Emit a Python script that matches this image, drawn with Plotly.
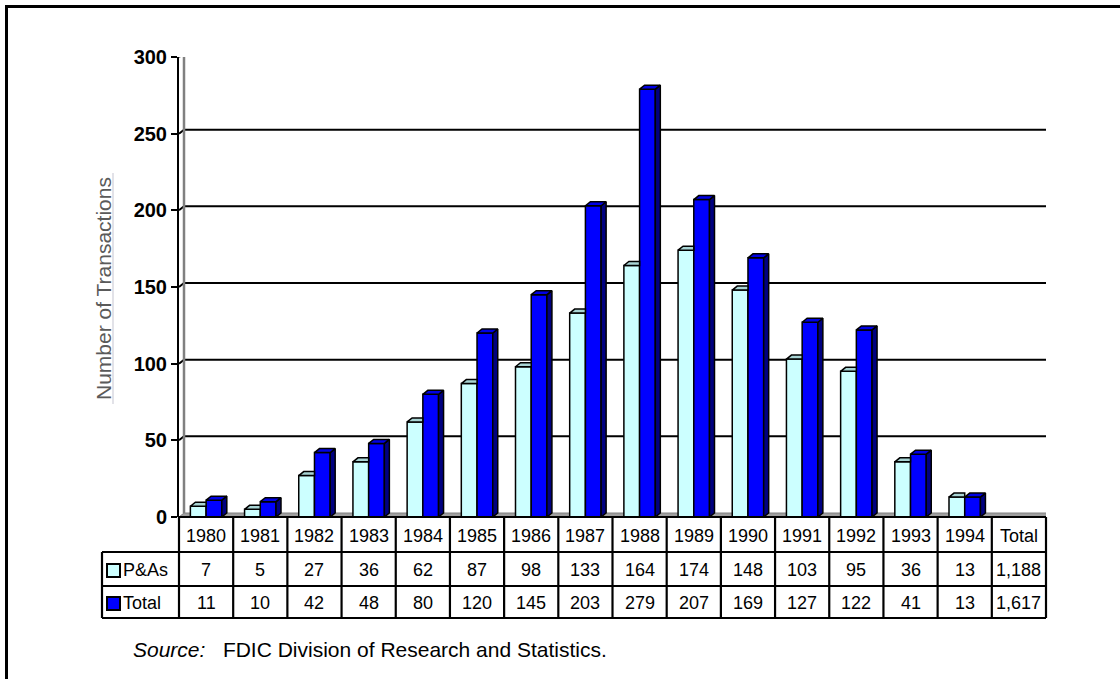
import plotly.graph_objects as go

# ---- data -------------------------------------------------------------
years = ["1980", "1981", "1982", "1983", "1984", "1985", "1986", "1987",
         "1988", "1989", "1990", "1991", "1992", "1993", "1994"]
pas_values = [7, 5, 27, 36, 62, 87, 98, 133, 164, 174, 148, 103, 95, 36, 13]
total_values = [11, 10, 42, 48, 80, 120, 145, 203, 279, 207, 169, 127, 122, 41, 13]
series_names = ["P&As", "Total"]
y_ticks = [0, 50, 100, 150, 200, 250, 300]
total_column_label = "Total"

# ---- geometry ---------------------------------------------------------
W, H = 1120, 679
ML, MR, MT, MB = 179, 74, 57, 162
PW, PH = W - ML - MR, H - MT - MB
n_cols = len(years) + 1                  # year columns + "Total" column
x_lo, x_hi = -0.5, n_cols - 0.5
y_lo, y_hi = 0, 300
ux = PW / (x_hi - x_lo)                  # px per x unit
uy = PH / (y_hi - y_lo)                  # px per y unit

def px_x(p):
    return (p - ML) / PW

def px_y(p):
    return (H - MB - p) / PH

FONT = "Liberation Sans, Arial, sans-serif"
PAS_FRONT, PAS_TOP = "#CCFFFF", "#A8D4D4"
TOT_FRONT, TOT_TOP, TOT_SIDE = "#0000FF", "#0000E6", "#000080"

depth_x = 5 / ux                          # 3-D depth in data units
depth_y = 4 / uy
bar_w = 0.29

fig = go.Figure()

xs = list(range(len(years)))

# front faces
fig.add_trace(go.Bar(x=xs, y=pas_values, width=bar_w, offset=-bar_w,
                     marker=dict(color=PAS_FRONT, line=dict(color="black", width=1.5)),
                     name=series_names[0], hoverinfo="skip"))
fig.add_trace(go.Bar(x=xs, y=total_values, width=bar_w, offset=0,
                     marker=dict(color=TOT_FRONT, line=dict(color="black", width=1.5)),
                     name=series_names[1], hoverinfo="skip"))


def polys(points_list):
    px, py = [], []
    for pts in points_list:
        for (a, b) in pts + [pts[0]]:
            px.append(a)
            py.append(b)
        px.append(None)
        py.append(None)
    return px, py


# P&As top faces (right part is hidden behind the Total bar)
pas_tops = []
for i, v in zip(xs, pas_values):
    x0, x1 = i - bar_w, i
    pas_tops.append([(x0, v), (x1, v), (x1, v + depth_y), (x0 + depth_x, v + depth_y)])
tx, ty = polys(pas_tops)
fig.add_trace(go.Scatter(x=tx, y=ty, mode="lines", fill="toself", fillcolor=PAS_TOP,
                         line=dict(color="black", width=1.5), hoverinfo="skip",
                         showlegend=False))

# Total top and side faces
tot_tops, tot_sides = [], []
for i, v in zip(xs, total_values):
    x0, x1 = i, i + bar_w
    tot_tops.append([(x0, v), (x1, v), (x1 + depth_x, v + depth_y), (x0 + depth_x, v + depth_y)])
    tot_sides.append([(x1, 0), (x1, v), (x1 + depth_x, v + depth_y), (x1 + depth_x, depth_y)])
tx, ty = polys(tot_sides)
fig.add_trace(go.Scatter(x=tx, y=ty, mode="lines", fill="toself", fillcolor=TOT_SIDE,
                         line=dict(color="black", width=1.5), hoverinfo="skip",
                         showlegend=False))
tx, ty = polys(tot_tops)
fig.add_trace(go.Scatter(x=tx, y=ty, mode="lines", fill="toself", fillcolor=TOT_TOP,
                         line=dict(color="black", width=1.5), hoverinfo="skip",
                         showlegend=False))

shapes = []

# back wall, floor and gridlines
wall_l, wall_r = x_lo + depth_x, x_hi + depth_x
shapes.append(dict(type="path", xref="x", yref="y", layer="below",
                   path=f"M {x_lo},0 L {x_hi},0 L {wall_r},{depth_y} L {wall_l},{depth_y} Z",
                   fillcolor="#A0A0A0", line=dict(color="#808080", width=1)))
for t in y_ticks[1:-1]:
    shapes.append(dict(type="path", xref="x", yref="y", layer="below",
                       path=f"M {x_lo},{t} L {wall_l},{t + depth_y} L {wall_r},{t + depth_y}",
                       line=dict(color="black", width=2)))
shapes.append(dict(type="path", xref="x", yref="y", layer="below",
                   path=(f"M {wall_l},{depth_y} L {wall_l},{y_hi + depth_y} "
                         f"L {wall_r},{y_hi + depth_y} L {wall_r},{depth_y}"),
                   line=dict(color="#808080", width=2.5)))
shapes.append(dict(type="line", xref="x", yref="y", layer="below",
                   x0=x_lo, y0=y_hi, x1=wall_l, y1=y_hi + depth_y,
                   line=dict(color="black", width=2)))

# data table below the chart
row_top, row_1, row_2, row_bot = 517, 552, 586, 618
key_left = 102
tbl_lw = 2.2
for p in (row_1, row_2, row_bot):
    shapes.append(dict(type="line", xref="paper", yref="paper",
                       x0=px_x(key_left), x1=1, y0=px_y(p), y1=px_y(p),
                       line=dict(color="black", width=tbl_lw)))
shapes.append(dict(type="line", xref="paper", yref="paper",
                   x0=0, x1=1, y0=px_y(row_top), y1=px_y(row_top),
                   line=dict(color="black", width=tbl_lw)))
for c in range(n_cols + 1):
    shapes.append(dict(type="line", xref="paper", yref="paper",
                       x0=c / n_cols, x1=c / n_cols, y0=px_y(row_top), y1=px_y(row_bot),
                       line=dict(color="black", width=tbl_lw)))
shapes.append(dict(type="line", xref="paper", yref="paper",
                   x0=px_x(key_left), x1=px_x(key_left), y0=px_y(row_1), y1=px_y(row_bot),
                   line=dict(color="black", width=tbl_lw)))

# legend keys inside the table
for (top, colr) in ((564, PAS_FRONT), (597, TOT_FRONT)):
    shapes.append(dict(type="rect", xref="paper", yref="paper",
                       x0=px_x(107), x1=px_x(120), y0=px_y(top + 13), y1=px_y(top),
                       fillcolor=colr, line=dict(color="black", width=2)))

# outer frame: left and top edges of the page border
shapes.append(dict(type="line", xref="paper", yref="paper",
                   x0=px_x(6.5), x1=px_x(6.5), y0=px_y(H + 5), y1=px_y(5),
                   line=dict(color="black", width=3)))
shapes.append(dict(type="line", xref="paper", yref="paper",
                   x0=px_x(5), x1=px_x(W + 5), y0=px_y(6.5), y1=px_y(6.5),
                   line=dict(color="black", width=3)))

# faint rule beside the axis title
shapes.append(dict(type="line", xref="paper", yref="paper",
                   x0=px_x(113), x1=px_x(113), y0=px_y(404), y1=px_y(173),
                   line=dict(color="#D8D8E0", width=1.5)))

annotations = []
cell_font = dict(family=FONT, size=18, color="black")
y_head = px_y((row_top + row_1) / 2 + 1)
y_r1 = px_y((row_1 + row_2) / 2 + 1)
y_r2 = px_y((row_2 + row_bot) / 2 + 1)


def cell(x, y, text, xref="x", xanchor="center"):
    annotations.append(dict(x=x, y=y, xref=xref, yref="paper", text=text,
                            xanchor=xanchor, yanchor="middle",
                            showarrow=False, font=cell_font))


for i, yr in enumerate(years):
    cell(i, y_head, yr)
    cell(i, y_r1, str(pas_values[i]))
    cell(i, y_r2, str(total_values[i]))
last = len(years)
cell(last, y_head, total_column_label)
cell(last, y_r1, f"{sum(pas_values):,}")
cell(last, y_r2, f"{sum(total_values):,}")
for name, yy in zip(series_names, (y_r1, y_r2)):
    cell(px_x(121), yy, name, xref="paper", xanchor="left")

annotations.append(dict(x=px_x(131), y=px_y(649), xref="paper", yref="paper",
                        text="<i>Source:</i>\u00a0\u00a0 FDIC Division of Research and Statistics.",
                        xanchor="left", yanchor="middle", showarrow=False,
                        font=dict(family=FONT, size=21, color="black")))
annotations.append(dict(x=px_x(103), y=px_y(289), xref="paper", yref="paper",
                        text="Number of Transactions", textangle=-90, showarrow=False,
                        xanchor="center", yanchor="middle",
                        font=dict(family=FONT, size=21, color="#5A5A5A")))

fig.update_layout(
    width=W, height=H,
    margin=dict(l=ML, r=MR, t=MT, b=MB, pad=0),
    paper_bgcolor="white", plot_bgcolor="white",
    barmode="overlay", showlegend=False,
    xaxis=dict(range=[x_lo, x_hi], visible=False, fixedrange=True),
    yaxis=dict(range=[y_lo, y_hi], tickvals=y_ticks, showgrid=False, zeroline=False,
               showline=True, linecolor="black", linewidth=2,
               ticks="outside", ticklen=6, tickwidth=2, tickcolor="black",
               tickfont=dict(family=FONT, size=20, color="black", weight="bold"),
               fixedrange=True),
    shapes=shapes, annotations=annotations,
    font=dict(family=FONT),
)

fig.write_html("out.html")
